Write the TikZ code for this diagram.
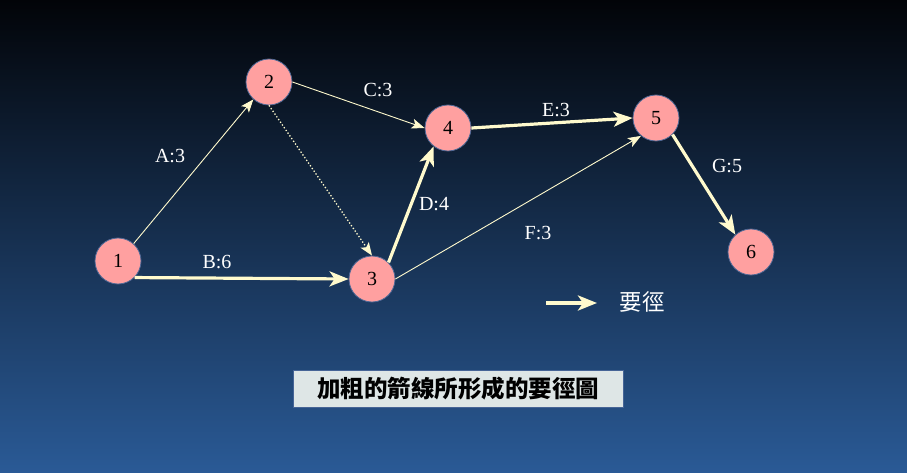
\documentclass[tikz,border=0pt]{standalone}
\usepackage{fontspec}
\setmainfont{Liberation Serif}
\newfontfamily\cjk{Noto Sans CJK TC}
\usetikzlibrary{arrows.meta}
\definecolor{bgtop}{RGB}{2,4,8}
\definecolor{bgbot}{RGB}{42,90,150}
\definecolor{nodefill}{RGB}{255,160,160}
\definecolor{nodeline}{RGB}{80,105,150}
\definecolor{cream}{RGB}{255,250,205}
\definecolor{boxfill}{RGB}{222,230,230}
\definecolor{boxline}{RGB}{70,100,150}
\tikzset{
  ev/.style={circle, fill=nodefill, draw=nodeline, line width=0.8pt, minimum size=46pt, inner sep=0pt, font=\fontsize{20}{20}\selectfont, text=black},
  thin arc/.style={draw=cream, line width=0.9pt, -{Stealth[length=13pt,width=10pt,inset=3pt]}},
  thick arc/.style={draw=cream, line width=3.2pt, -{Stealth[length=19pt,width=15pt,inset=5pt]}},
  dot arc/.style={draw=cream, line width=1.3pt, dotted, -{Stealth[length=13pt,width=10pt,inset=3pt]}},
  lab/.style={text=white, font=\fontsize{20}{20}\selectfont},
}
\begin{document}
\begin{tikzpicture}[x=1pt,y=-1pt]
\shade[top color=bgtop, bottom color=bgbot] (0,0) rectangle (907,473);
\useasboundingbox (0,0) rectangle (907,473);
\node[ev] (n1) at (118,261) {1};
\node[ev] (n2) at (269,82) {2};
\node[ev] (n3) at (372,279) {3};
\node[ev] (n4) at (448,128) {4};
\node[ev] (n5) at (656,118) {5};
\node[ev] (n6) at (751,252) {6};
\draw[thin arc] (n1.48) -- (n2.228);
\draw[thick arc] (n1.-45) -- (n3.west);
\draw[thin arc] (n2.east) -- (n4.west);
\draw[dot arc] (n2.south) -- (n3.north);
\draw[thick arc] (n3.45) -- (n4.232);
\draw[thick arc] (n4.east) -- (n5.west);
\draw[thin arc] (n3.east) -- (n5.230);
\draw[thick arc] (n5.-45) -- (n6.132);
\node[lab] (la) at (170,156) {A:3};
\node[lab] (lb) at (217,262) {B:6};
\node[lab] (lc) at (378,90) {C:3};
\node[lab] (ld) at (434,204) {D:4};
\node[lab] (le) at (556,110) {E:3};
\node[lab] (lf) at (538,233) {F:3};
\node[lab] (lg) at (727,166) {G:5};
\coordinate (k1) at (546,303);
\coordinate (k2) at (597,303);
\draw[thick arc, line width=3.6pt] (k1) -- (k2);
\node[text=white, font=\cjk\fontsize{22.5}{22.5}\selectfont] (kt) at (642,302) {要徑};
\node[fill=boxfill, draw=boxline, line width=0.8pt, minimum width=330pt, minimum height=37pt, inner sep=0pt, font=\cjk\bfseries\fontsize{23.5}{23.5}\selectfont, text=black] (cap) at (458,388.5) {加粗的箭線所形成的要徑圖};
\end{tikzpicture}
\end{document}
